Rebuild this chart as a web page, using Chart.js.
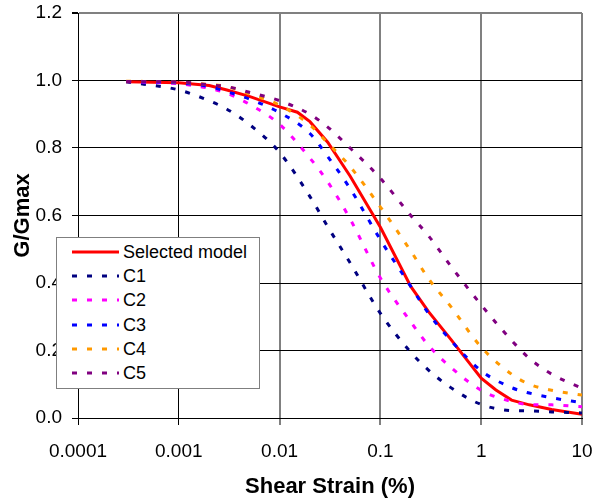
<!DOCTYPE html>
<html>
<head>
<meta charset="utf-8">
<script src="https://cdn.jsdelivr.net/npm/chart.js@4.4.1/dist/chart.umd.min.js"></script>
<style>
  html, body { margin: 0; padding: 0; background: #fff; }
  #wrap { position: relative; width: 602px; height: 503px; }
  #legend { position: absolute; left: 56px; top: 237px; width: 204px; height: 152px; box-sizing: border-box;
            border: 1px solid #7f7f7f; background: #fff; font-family: "Liberation Sans", Arial, sans-serif; font-size: 18px; color: #000; }
  .row { position: absolute; left: 0; height: 24px; width: 200px; }
  .row svg { position: absolute; left: 15px; top: 0; }
  .row span { position: absolute; left: 66px; top: 2px; line-height: 20px; white-space: nowrap; }
</style>
</head>
<body>
<div id="wrap">
  <canvas id="c" width="602" height="503"></canvas>
  <div id="legend"></div>
</div>
<script>
// ---- data ----
const xTickValues = [0.0001, 0.001, 0.01, 0.1, 1, 10];
const xTickLabels = ["0.0001", "0.001", "0.01", "0.1", "1", "10"];
const yTickLabels = ["0.0", "0.2", "0.4", "0.6", "0.8", "1.0", "1.2"];

const seriesNames = ["Selected model", "C1", "C2", "C3", "C4", "C5"];

const selectedStrain = [0.0003, 0.001, 0.002, 0.003, 0.005, 0.01, 0.015, 0.02, 0.03, 0.05, 0.1, 0.2, 0.3, 0.5, 1, 1.4, 2, 3, 5, 10];
const selectedModel  = [0.996, 0.993, 0.985, 0.972, 0.953, 0.922, 0.906, 0.878, 0.817, 0.717, 0.565, 0.39, 0.315, 0.233, 0.118, 0.083, 0.053, 0.039, 0.025, 0.011];

const strain = [0.0003, 0.001, 0.002, 0.003, 0.005, 0.01, 0.02, 0.03, 0.05, 0.1, 0.2, 0.3, 0.5, 1, 2, 3, 5, 10];
const c1 = [0.996, 0.972, 0.94, 0.915, 0.87, 0.787, 0.656, 0.567, 0.46, 0.31, 0.195, 0.142, 0.09, 0.04, 0.022, 0.021, 0.018, 0.015];
const c2 = [0.997, 0.99, 0.977, 0.962, 0.93, 0.87, 0.77, 0.70, 0.59, 0.415, 0.285, 0.215, 0.15, 0.082, 0.049, 0.04, 0.039, 0.033];
const c3 = [0.997, 0.993, 0.982, 0.967, 0.945, 0.905, 0.843, 0.775, 0.68, 0.528, 0.39, 0.31, 0.23, 0.14, 0.09, 0.074, 0.06, 0.045];
const c4 = [0.998, 0.995, 0.988, 0.982, 0.96, 0.927, 0.868, 0.815, 0.745, 0.625, 0.495, 0.413, 0.33, 0.21, 0.13, 0.10, 0.082, 0.068];
const c5 = [0.997, 0.996, 0.987, 0.982, 0.965, 0.94, 0.90, 0.862, 0.80, 0.71, 0.60, 0.54, 0.45, 0.335, 0.23, 0.177, 0.13, 0.088];

const colors = ["#ff0000", "#000080", "#ff00ff", "#0000ff", "#ff9900", "#800080"];

// ---- build datasets ----
function pts(xs, ys) { return xs.map((x, i) => ({ x: x, y: ys[i] })); }
const curveData = [pts(selectedStrain, selectedModel), pts(strain, c1), pts(strain, c2), pts(strain, c3), pts(strain, c4), pts(strain, c5)];

const datasets = curveData.map((d, i) => ({
  label: seriesNames[i],
  data: d,
  borderColor: colors[i],
  backgroundColor: colors[i],
  borderWidth: 3,
  borderDash: i === 0 ? [] : [5, 10],
  borderCapStyle: 'butt',
  pointRadius: 0,
  tension: 0,
  cubicInterpolationMode: i === 0 ? 'default' : 'monotone',
  fill: false,
  order: i === 0 ? 10 : 6 - i
}));

const FONT = "'Liberation Sans', Arial, sans-serif";

new Chart(document.getElementById('c'), {
  type: 'line',
  data: { datasets: datasets },
  options: {
    responsive: false,
    animation: false,
    devicePixelRatio: 1,
    layout: { padding: { left: 0, right: 20, top: 13, bottom: 0 } },
    plugins: { legend: { display: false }, tooltip: { enabled: false } },
    scales: {
      x: {
        type: 'logarithmic',
        min: 0.0001, max: 10,
        afterBuildTicks: s => { s.ticks = xTickValues.map(v => ({ value: v })); },
        afterFit: s => { s.height = 85; s.paddingLeft = 0; s.paddingRight = 0; },
        ticks: {
          autoSkip: false, maxRotation: 0, minRotation: 0,
          padding: 15,
          color: '#000',
          font: { family: FONT, size: 19 },
          callback: (v, i) => xTickLabels[i]
        },
        grid: {
          color: c => (c.tick && c.tick.value >= 0.01) ? '#808080' : '#000000',
          lineWidth: c => (c.tick && c.tick.value >= 0.01) ? 2 : 1,
          tickLength: 7
        },
        border: { color: '#000', width: 1 },
        title: { display: true, text: 'Shear Strain (%)', color: '#000',
                 font: { family: FONT, size: 22, weight: 'bold' }, padding: { top: 0, bottom: 3 } }
      },
      y: {
        type: 'linear',
        min: 0, max: 1.2,
        afterBuildTicks: s => { s.ticks = yTickLabels.map(t => ({ value: parseFloat(t) })); },
        afterFit: s => { s.width = 78; s.paddingTop = 0; s.paddingBottom = 0; },
        ticks: {
          padding: 10,
          color: '#000',
          font: { family: FONT, size: 19 },
          callback: (v, i) => yTickLabels[i]
        },
        grid: {
          color: c => (c.tick && c.tick.value > 1.1) ? '#808080' : '#000000',
          lineWidth: c => (c.tick && c.tick.value > 1.1) ? 2 : 1,
          tickColor: '#000000',
          tickLength: 6
        },
        border: { color: '#000', width: 1 },
        title: { display: true, text: 'G/Gmax', color: '#000',
                 font: { family: FONT, size: 22, weight: 'bold' }, padding: { top: 10, bottom: 0 } }
      }
    }
  }
});

// ---- HTML legend built from the series ----
const legend = document.getElementById('legend');
seriesNames.forEach((name, i) => {
  const row = document.createElement('div');
  row.className = 'row';
  row.style.top = (2 + i * 24.2) + 'px';
  const dash = i === 0 ? '' : ' stroke-dasharray="5 10"';
  row.innerHTML = '<svg width="48" height="24"><line x1="0" y1="12" x2="47" y2="12" stroke="' + colors[i] +
    '" stroke-width="3"' + dash + '/></svg><span>' + name + '</span>';
  legend.appendChild(row);
});
</script>
</body>
</html>
